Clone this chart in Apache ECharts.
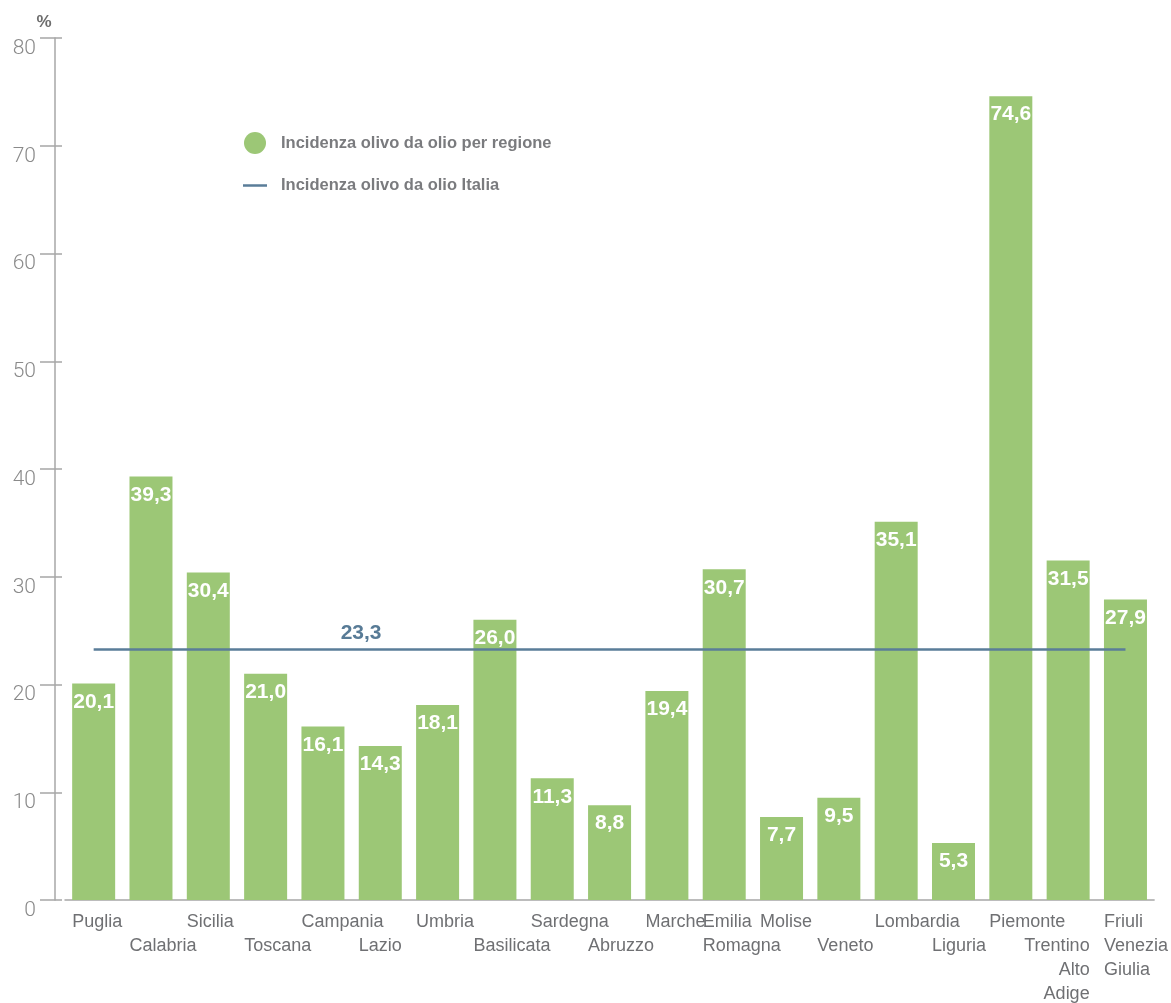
<!DOCTYPE html>
<html><head><meta charset="utf-8">
<script src="https://cdn.jsdelivr.net/npm/echarts@6/dist/echarts.min.js"></script>
<style>html,body{margin:0;padding:0;background:#fff}#c{width:1171px;height:1003px}</style>
</head><body><div id="c"></div>
<script>
const categories = ['Puglia','Calabria','Sicilia','Toscana','Campania','Lazio','Umbria','Basilicata','Sardegna','Abruzzo','Marche','Emilia Romagna','Molise','Veneto','Lombardia','Liguria','Piemonte','Trentino Alto Adige','Friuli Venezia Giulia'];
const tickLabels = ['Puglia','\nCalabria','Sicilia','\nToscana','Campania','\nLazio','Umbria','\nBasilicata','Sardegna','\nAbruzzo','Marche','Emilia\nRomagna','Molise','\nVeneto','Lombardia','\nLiguria','Piemonte','\nTrentino\nAlto\nAdige','Friuli\nVenezia\nGiulia'];
const regionValues = [20.1,39.3,30.4,21.0,16.1,14.3,18.1,26.0,11.3,8.8,19.4,30.7,7.7,9.5,35.1,5.3,74.6,31.5,27.9];
const italiaValue = 23.3;
const seriesNames = ['Incidenza olivo da olio per regione','Incidenza olivo da olio Italia'];
const yTicks = {min: 0, max: 80, interval: 10};

const fmt = v => v.toFixed(1).replace('.', ',');
const sans = "'Liberation Sans', Arial, sans-serif";
const rightAligned = new Set([17]);

const chart = echarts.init(document.getElementById('c'));
const yBase = {
  type: 'value', min: yTicks.min, max: yTicks.max, interval: yTicks.interval,
  position: 'left', offset: 10, splitLine: {show: false}
};
chart.setOption({
  animation: false,
  grid: {left: 65, right: 16, top: 38, bottom: 99, containLabel: false},
  legend: {
    orient: 'vertical', left: 238, top: 127, itemWidth: 24, itemHeight: 22, itemGap: 23,
    textStyle: {fontFamily: sans, fontWeight: 'bold', fontSize: 16.5, color: '#7a7b7e', padding: [0,0,0,9]},
    data: [{name: seriesNames[0], icon: 'circle'}, {name: seriesNames[1], icon: 'path://M0 0H24V2.5H0Z'}]
  },
  xAxis: {
    type: 'category', data: categories,
    axisLine: {lineStyle: {color: '#a7a7a7', width: 1.5}},
    axisTick: {length: 3, lineStyle: {color: '#a7a7a7'}},
    axisLabel: {
      interval: 0, margin: 10, hideOverlap: false,
      formatter: (v, i) => tickLabels[i].split('\n').map(l => {
        const s = rightAligned.has(i) ? 'r' : 'l';
        return l ? `{${s}|${l}}` : `{${s}| }`;
      }).join('\n'),
      rich: {
        l: {width: 43, align: 'left', fontFamily: sans, fontSize: 18, color: '#6f7073', lineHeight: 24},
        r: {width: 43, align: 'right', fontFamily: sans, fontSize: 18, color: '#6f7073', lineHeight: 24}
      }
    }
  },
  yAxis: [
    Object.assign({}, yBase, {
      name: '%', nameGap: 7,
      nameTextStyle: {fontFamily: sans, fontWeight: 'bold', fontSize: 17, color: '#6d6d6d', align: 'center', padding: [0, 22, 0, 0]},
      axisLine: {show: true, lineStyle: {color: '#a7a7a7', width: 1.5}},
      axisTick: {show: true, length: 15, lineStyle: {color: '#a7a7a7', width: 1.5}},
      axisLabel: {margin: 19, verticalAlign: 'top', fontFamily: 'Roboto', fontWeight: 300, fontSize: 21, color: '#8a8a8a'}
    }),
    Object.assign({}, yBase, {
      axisLine: {show: false},
      axisTick: {show: true, inside: true, length: 7, lineStyle: {color: '#a7a7a7', width: 1.5}},
      axisLabel: {show: false}
    })
  ],
  series: [
    {
      name: seriesNames[0], type: 'bar', data: regionValues, barWidth: 43,
      itemStyle: {color: '#9cc776'},
      label: {show: true, position: 'insideTop', distance: 8, formatter: p => fmt(p.value),
        fontFamily: sans, fontWeight: 'bold', fontSize: 21, color: '#fff'}
    },
    {
      name: seriesNames[1], type: 'line', data: [], symbol: 'none',
      itemStyle: {color: '#5a7d99'}, lineStyle: {color: '#5a7d99', width: 2.5},
      markLine: {
        silent: true, symbol: 'none',
        lineStyle: {color: '#5a7d99', width: 2.5, type: 'solid'},
        label: {show: true, position: 'insideStartTop', distance: [247, 5], formatter: () => fmt(italiaValue),
          fontFamily: sans, fontWeight: 'bold', fontSize: 21, color: '#587b96'},
        data: [[{coord: [0, italiaValue]}, {coord: [categories.length - 1, italiaValue]}]]
      }
    }
  ]
});
</script></body></html>
